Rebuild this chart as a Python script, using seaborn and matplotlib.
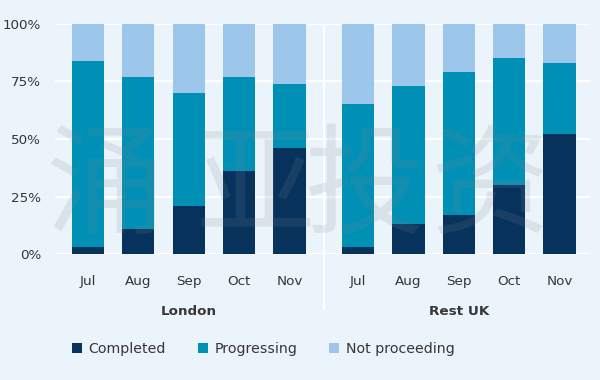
import matplotlib
matplotlib.use("Agg")
import matplotlib.pyplot as plt
import seaborn as sns
import pandas as pd
from matplotlib.patches import Patch
from matplotlib.lines import Line2D
from matplotlib.ticker import FuncFormatter
import matplotlib.transforms as mtrans

months = ["Jul", "Aug", "Sep", "Oct", "Nov"]
regions = ["London", "Rest UK"]
series = ["Completed", "Progressing", "Not proceeding"]

london_completed = [3, 11, 21, 36, 46]
london_progressing = [81, 66, 49, 41, 28]
london_not_proceeding = [16, 23, 30, 23, 26]

rest_completed = [3, 13, 17, 30, 52]
rest_progressing = [62, 60, 62, 55, 31]
rest_not_proceeding = [35, 27, 21, 15, 17]

yticks = [0, 25, 50, 75, 100]
watermark = "涌亚投资"

colors = {"Completed": "#06325c", "Progressing": "#0090b5", "Not proceeding": "#9dc6eb"}
BG = "#ebf3fb"
TXT = "#363636"

sns.set_theme(style="white")
plt.rcParams["font.family"] = ["DejaVu Sans", "Noto Sans CJK SC"]

rows = []
for reg, c, p, n in [("London", london_completed, london_progressing, london_not_proceeding),
                     ("Rest UK", rest_completed, rest_progressing, rest_not_proceeding)]:
    for m, cv, pv, nv in zip(months, c, p, n):
        rows.append({"region": reg, "month": m, "Completed": cv,
                     "cum_prog": cv + pv, "cum_all": cv + pv + nv})
df = pd.DataFrame(rows)

fig = plt.figure(figsize=(6, 3.8), dpi=100, facecolor=BG)
W, H = 600.0, 380.0
y0, y1 = 254.0, 24.0
ax_specs = [("London", 55.0, 324.0, (-0.655, 4.685)),
            ("Rest UK", 324.0, 590.0, (-0.675, 4.605))]

axes = []
for reg, xl, xr, xlim in ax_specs:
    ax = fig.add_axes([xl / W, (H - y0) / H, (xr - xl) / W, (y0 - y1) / H])
    ax.set_facecolor("none")
    sub = df[df.region == reg]
    for col, key in [("cum_all", "Not proceeding"), ("cum_prog", "Progressing"), ("Completed", "Completed")]:
        sns.barplot(data=sub, x="month", y=col, order=months, color=colors[key],
                    width=0.64, errorbar=None, saturation=1, linewidth=0, ax=ax, zorder=3)
    ax.set_xlim(*xlim)
    ax.set_ylim(0, 100)
    ax.set_yticks(yticks)
    ax.yaxis.grid(True, color="white", linewidth=1.6, zorder=0)
    ax.xaxis.grid(False)
    ax.set_axisbelow(True)
    for s in ax.spines.values():
        s.set_visible(False)
    ax.set_xlabel("")
    ax.set_ylabel("")
    ax.tick_params(axis="x", length=0, pad=15, labelsize=9.7, labelcolor=TXT)
    ax.tick_params(axis="y", length=0, pad=10, labelsize=9.7, labelcolor=TXT)
    ax.text(2, -0.248, reg, transform=mtrans.blended_transform_factory(ax.transData, ax.transAxes),
            ha="center", va="center", fontsize=9.7, fontweight="bold", color=TXT)
    axes.append(ax)

axes[0].yaxis.set_major_formatter(FuncFormatter(lambda v, p: f"{int(v)}%"))
axes[1].tick_params(axis="y", labelleft=False)

# separator between groups
fig.add_artist(Line2D([324 / W, 324 / W], [(H - 24) / H, (H - 310) / H],
                      transform=fig.transFigure, color="white", linewidth=1.5))

# watermark
for ch, cx in zip(watermark, [105, 255, 365, 490]):
    fig.text(cx / W, (H - 190) / H, ch, ha="center", va="center", fontsize=86,
             family=["Noto Sans CJK SC"], color="#808890", alpha=0.16, zorder=10)

handles = [Patch(facecolor=colors[s], edgecolor="none") for s in series]
fig.legend(handles, series, loc="center left", bbox_to_anchor=(72 / W, (H - 349) / H),
           ncol=3, frameon=False, fontsize=10.2, handlelength=0.72, handleheight=0.72,
           handletextpad=0.45, columnspacing=2.25, borderpad=0, borderaxespad=0,
           labelcolor=TXT)

fig.savefig("out.png", dpi=100, facecolor=BG)
